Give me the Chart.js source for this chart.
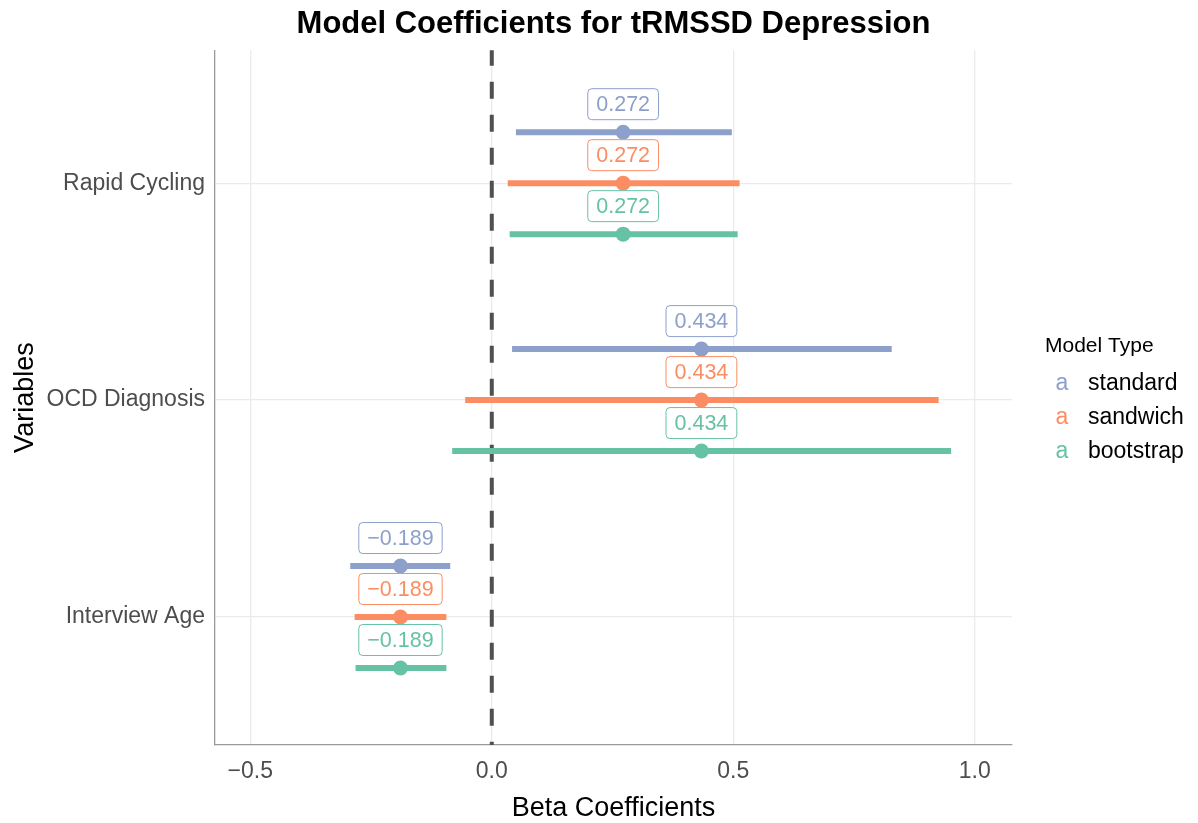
<!DOCTYPE html>
<html>
<head>
<meta charset="utf-8">
<title>Model Coefficients for tRMSSD Depression</title>
<script src="https://cdn.jsdelivr.net/npm/chart.js@4.4.1/dist/chart.umd.min.js"></script>
<style>
  html, body { margin:0; padding:0; background:#fff; }
  canvas { display:block; }
</style>
</head>
<body>
<canvas id="coefChart" width="1198" height="823"></canvas>
<script>
// Data
const variables = ['Rapid Cycling', 'OCD Diagnosis', 'Interview Age'];
const models = ['standard', 'sandwich', 'bootstrap'];
const estimates = [0.272, 0.434, -0.189];

const standardLow  = [0.050, 0.042, -0.293];
const standardHigh = [0.497, 0.828, -0.086];
const sandwichLow  = [0.033, -0.055, -0.284];
const sandwichHigh = [0.513, 0.925, -0.094];
const bootstrapLow  = [0.037, -0.082, -0.282];
const bootstrapHigh = [0.509, 0.951, -0.094];

const xTicks = [-0.5, 0, 0.5, 1.0];

const colors = { standard:'#8DA0CB', sandwich:'#FC8D62', bootstrap:'#66C2A5' };
const FONT = "'Liberation Sans', Helvetica, Arial, sans-serif";

// dodge between model types (y units, one category = 1)
const DODGE = 0.235;
const offsets = { standard:-DODGE, sandwich:0, bootstrap:DODGE };
const lows = { standard:standardLow, sandwich:sandwichLow, bootstrap:bootstrapLow };
const highs = { standard:standardHigh, sandwich:sandwichHigh, bootstrap:bootstrapHigh };

function fmt(v){ return v < 0 ? '\u2212' + Math.abs(v).toFixed(3) : v.toFixed(3); }
function fmtTick(v){ return v < 0 ? '\u2212' + Math.abs(v).toFixed(1) : v.toFixed(1); }

// datasets: points first (on top), then intervals, then zero line
const pointSets = models.map(m => ({
  label: m + ' estimate',
  model: m,
  data: estimates.map((e, i) => ({ x:e, y:i + offsets[m] })),
  backgroundColor: colors[m],
  borderColor: colors[m],
  pointRadius: 7.5,
  pointBorderWidth: 0,
  showLine: false
}));

const barSets = models.map(m => {
  const pts = [];
  variables.forEach((v, i) => {
    pts.push({ x:lows[m][i], y:i + offsets[m] });
    pts.push({ x:highs[m][i], y:i + offsets[m] });
    pts.push({ x:NaN, y:NaN });
  });
  return {
    label: m + ' interval',
    data: pts,
    borderColor: colors[m],
    backgroundColor: colors[m],
    borderWidth: 6,
    borderCapStyle: 'butt',
    pointRadius: 0,
    showLine: true,
    spanGaps: false
  };
});

const zeroLine = {
  label: 'zero',
  data: [{ x:0, y:-0.62 }, { x:0, y:2.6 }],
  borderColor: '#505050',
  borderWidth: 4,
  borderDash: [17, 16],
  pointRadius: 0,
  showLine: true
};

// estimate labels (geom_label look)
const labelPlugin = {
  id: 'estLabels',
  afterDatasetsDraw(chart){
    const ctx = chart.ctx;
    chart.data.datasets.forEach((ds, di) => {
      if(!ds.model) return;
      const meta = chart.getDatasetMeta(di);
      meta.data.forEach((pt, i) => {
        const txt = fmt(ds.data[i].x);
        ctx.save();
        ctx.font = '21.5px ' + FONT;
        const w = ctx.measureText(txt).width + 17, h = 31;
        const cx = pt.x, cy = pt.y - 28;
        ctx.beginPath();
        ctx.roundRect(cx - w/2, cy - h/2, w, h, 4);
        ctx.fillStyle = '#fff';
        ctx.fill();
        ctx.lineWidth = 1;
        ctx.strokeStyle = colors[ds.model];
        ctx.stroke();
        ctx.fillStyle = colors[ds.model];
        ctx.textAlign = 'center';
        ctx.textBaseline = 'middle';
        ctx.fillText(txt, cx, cy + 1);
        ctx.restore();
      });
    });
  }
};

// legend on the right
const legendPlugin = {
  id: 'sideLegend',
  afterDraw(chart){
    const ctx = chart.ctx;
    ctx.save();
    ctx.textBaseline = 'middle';
    ctx.fillStyle = '#000';
    ctx.font = '21px ' + FONT;
    ctx.textAlign = 'left';
    ctx.fillText('Model Type', 1045, 346);
    models.forEach((m, i) => {
      const y = 384 + i * 34;
      ctx.font = '23px ' + FONT;
      ctx.fillStyle = colors[m];
      ctx.textAlign = 'center';
      ctx.fillText('a', 1062, y);
      ctx.fillStyle = '#000';
      ctx.textAlign = 'left';
      ctx.fillText(m, 1088, y);
    });
    ctx.restore();
  }
};

new Chart(document.getElementById('coefChart'), {
  type: 'scatter',
  data: { datasets: [...pointSets, ...barSets, zeroLine] },
  options: {
    responsive: false,
    animation: false,
    layout: { padding: { left:0, right:186, top:0, bottom:0 } },
    plugins: {
      legend: { display:false },
      tooltip: { enabled:false },
      title: {
        display: true,
        text: 'Model Coefficients for tRMSSD Depression',
        fullSize: false,
        color: '#000',
        font: { family:FONT, size:31, weight:'bold', lineHeight:1.2 },
        padding: { top:6, bottom:7 }
      }
    },
    scales: {
      x: {
        type: 'linear',
        min: -0.573,
        max: 1.077,
        afterBuildTicks(scale){ scale.ticks = xTicks.map(v => ({ value:v })); },
        afterFit(scale){ scale.height = 78; },
        ticks: {
          callback: v => fmtTick(v),
          color: '#4d4d4d',
          font: { family:FONT, size:23 },
          padding: 13,
          maxRotation: 0
        },
        grid: { color:'#ebebeb', lineWidth:1.3, drawTicks:false },
        border: { display:true, color:'#9a9a9a', width:1.3 },
        title: {
          display: true,
          text: 'Beta Coefficients',
          color: '#000',
          font: { family:FONT, size:27, lineHeight:1.0 },
          padding: { top:1, bottom:1 }
        }
      },
      y: {
        type: 'linear',
        reverse: true,
        min: -0.613,
        max: 2.59,
        afterBuildTicks(scale){ scale.ticks = variables.map((v, i) => ({ value:i })); },
        afterFit(scale){ scale.width = 215; },
        ticks: {
          callback: v => variables[v],
          color: '#4d4d4d',
          font: { family:FONT, size:23 },
          padding: 10
        },
        grid: { color:'#ebebeb', lineWidth:1.3, drawTicks:false },
        border: { display:true, color:'#9a9a9a', width:1.3 },
        title: {
          display: true,
          text: 'Variables',
          color: '#000',
          font: { family:FONT, size:27, lineHeight:1.2 },
          padding: { top:9, bottom:9 }
        }
      }
    }
  },
  plugins: [labelPlugin, legendPlugin]
});
</script>
</body>
</html>
